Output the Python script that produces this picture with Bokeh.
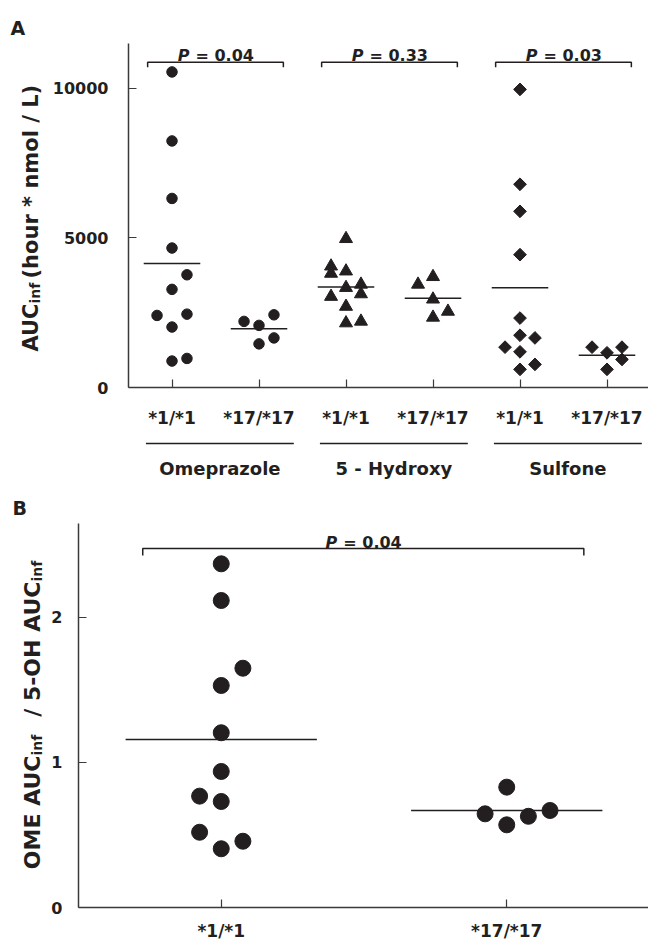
from math import pi
from bokeh.plotting import figure
from bokeh.models import Range1d, FixedTicker, Label
from bokeh.layouts import column, row
from bokeh.embed import file_html
from bokeh.resources import INLINE

# ---------------- data: panel A (AUCinf, hour*nmol/L) ----------------
genotypes = ["*1/*1", "*17/*17"]
groups_a = ["Omeprazole", "5 - Hydroxy", "Sulfone"]
p_values_a = ["0.04", "0.33", "0.03"]

ome_11 = [10540, 8235, 6315, 4659, 3765, 3278, 2407, 2450, 2020, 884, 971]
ome_11_slot = [0, 0, 0, 0, 1, 0, -1, 1, 0, 0, 1]
ome_1717 = [2208, 2075, 2428, 1656, 1457]
ome_1717_slot = [-1, 0, 1, 1, 0]

oh_11 = [4967, 4050, 3808, 3885, 3444, 3334, 3036, 3123, 2705, 2152, 2208]
oh_11_slot = [0, -1, -1, 0, 1, 0, -1, 1, 0, 0, 1]
oh_1717 = [3444, 3698, 2947, 2540, 2341]
oh_1717_slot = [-1, 0, 0, 1, 0]

sul_11 = [9957, 6788, 5884, 4437, 2318, 1745, 1656, 1347, 1192, 772, 606]
sul_11_slot = [0, 0, 0, 0, 0, 0, 1, -1, 0, 1, 0]
sul_1717 = [1347, 1159, 1347, 937, 606]
sul_1717_slot = [-1, 0, 1, 1, 0]

means_a = [4139, 1965, 3355, 2980, 3334, 1080]
yticks_a = [0, 5000, 10000]

# ---------------- data: panel B (OME AUCinf / 5-OH AUCinf) ----------------
ratio_11 = [2.37, 2.117, 1.650, 1.531, 1.205, 0.938, 0.768, 0.731, 0.519, 0.457, 0.405]
ratio_11_slot = [0, 0, 1, 0, 0, 0, -1, 0, -1, 1, 0]
ratio_1717 = [0.830, 0.646, 0.570, 0.629, 0.669]
ratio_1717_slot = [0, -1, 0, 1, 2]
means_b = [1.159, 0.669]
p_value_b = "0.04"
yticks_b = [0, 1, 2]

FONT = "DejaVu Sans"
INK = "#231f20"
AXC = "#3a3a3a"


def style(p):
    p.xgrid.visible = False
    p.ygrid.visible = False
    p.outline_line_color = None
    for ax in (p.xaxis[0], p.yaxis[0]):
        ax.axis_line_color = AXC
        ax.axis_line_width = 1.5
        ax.major_tick_line_color = AXC
        ax.major_tick_line_width = 1.2
        ax.major_tick_in = 8
        ax.major_tick_out = 0
        ax.minor_tick_line_color = None
        ax.major_label_text_font = FONT
        ax.major_label_text_font_style = "bold"
        ax.major_label_text_color = INK


def lab(p, x, y, text, size, align="left", baseline="alphabetic", angle=0.0,
        style_="bold", x_offset=0):
    p.add_layout(Label(x=x, y=y, text=text, angle=angle, x_offset=x_offset,
                       text_align=align, text_baseline=baseline,
                       text_font=FONT, text_font_style=style_,
                       text_font_size=f"{size}px", text_color=INK))


def blank(width, height, x_range=None, border_left=0):
    """A figure without axes whose frame is used to place text in pixels."""
    f = figure(width=width, height=height, output_backend="svg", toolbar_location=None,
               x_range=x_range if x_range is not None else Range1d(0, width),
               y_range=Range1d(0, height), x_axis_location=None, y_axis_location=None,
               min_border_left=border_left, min_border_right=0, min_border_top=0,
               min_border_bottom=0, frame_align=False)
    f.xgrid.visible = False
    f.ygrid.visible = False
    f.outline_line_color = None
    return f


LW = 48  # width of the column holding the rotated y titles

# ======================= Panel A =======================
HA = 430
pA = figure(width=648 - LW, height=HA, output_backend="svg", toolbar_location=None,
            x_range=Range1d(0.5, 6.477), y_range=Range1d(0, 11490),
            min_border_left=128 - LW, min_border_right=0, min_border_top=43,
            min_border_bottom=40, frame_align=False)
style(pA)
pA.xaxis[0].ticker = FixedTicker(ticks=[1, 2, 3, 4, 5, 6])
pA.xaxis[0].major_label_overrides = {i + 1: genotypes[i % 2] for i in range(6)}
pA.xaxis[0].major_label_text_font_size = "17px"
pA.xaxis[0].major_label_standoff = 20
pA.yaxis[0].ticker = FixedTicker(ticks=yticks_a)
pA.yaxis[0].major_label_overrides = {v: str(v) for v in yticks_a}
pA.yaxis[0].major_label_text_font_size = "16px"
pA.yaxis[0].major_label_standoff = 20

step_a = 0.172
series_a = [(ome_11, ome_11_slot), (ome_1717, ome_1717_slot),
            (oh_11, oh_11_slot), (oh_1717, oh_1717_slot),
            (sul_11, sul_11_slot), (sul_1717, sul_1717_slot)]
marks = [("circle", 10.5, 0.0), ("circle", 10.5, 0.0),
         ("triangle", 13, 0.0), ("triangle", 13, 0.0),
         ("square", 9, pi / 4), ("square", 9, pi / 4)]
for k, (vals, slots) in enumerate(series_a):
    c = k + 1
    m, s, ang = marks[k]
    pA.scatter([c + step_a * sl for sl in slots], vals, marker=m, size=s, angle=ang,
               fill_color=INK, line_color=INK)
    pA.segment(x0=[c - 0.325], x1=[c + 0.325], y0=[means_a[k]], y1=[means_a[k]],
               line_color=INK, line_width=1.5)

for g in range(3):
    c1, c2 = 2 * g + 1, 2 * g + 2
    xl, xr = c1 - 0.28, c2 + 0.28
    pA.line([xl, xl, xr, xr], [10695, 10861, 10861, 10695], line_color=INK, line_width=1.5)
    cx = (c1 + c2) / 2
    lab(pA, cx, 11093, "P", 16, align="right", style_="bold italic", x_offset=-26)
    lab(pA, cx, 11093, "= " + p_values_a[g], 16, align="left", x_offset=-20)

# group-name strip under panel A (shares the x scale of panel A)
HG = 480 - HA
gA = blank(648 - LW, HG, x_range=pA.x_range, border_left=128 - LW)
for g in range(3):
    c1, c2 = 2 * g + 1, 2 * g + 2
    ul, ur = c1 - 0.30, c2 + 0.40
    gA.segment(x0=[ul], x1=[ur], y0=[HG - 13], y1=[HG - 13], line_color=INK, line_width=1.5)
    lab(gA, (ul + ur) / 2, HG - 38, groups_a[g], 18, align="center")

# y title column of panel A (pixel coordinates, y measured from the top)
yA = blank(LW, 480)
lab(yA, 10, 480 - 27, "A", 19)
lab(yA, 30, 480 - 303, "AUC", 21, align="right", angle=pi / 2)
lab(yA, 34, 480 - 303, "inf", 14, align="left", angle=pi / 2)
lab(yA, 30, 480 - 278, "(hour * nmol / L)", 21, align="left", angle=pi / 2)

# ======================= Panel B =======================
HB = 463
pB = figure(width=648 - LW, height=HB, output_backend="svg", toolbar_location=None,
            x_range=Range1d(0.5, 2.4965), y_range=Range1d(0, 2.648),
            min_border_left=77 - LW, min_border_right=0, min_border_top=43,
            min_border_bottom=36, frame_align=False)
style(pB)
pB.xaxis[0].ticker = FixedTicker(ticks=[1, 2])
pB.xaxis[0].major_label_overrides = {1: genotypes[0], 2: genotypes[1]}
pB.xaxis[0].major_label_text_font_size = "17px"
pB.xaxis[0].major_label_standoff = 13
pB.yaxis[0].ticker = FixedTicker(ticks=yticks_b)
pB.yaxis[0].major_label_overrides = {v: str(v) for v in yticks_b}
pB.yaxis[0].major_label_text_font_size = "16px"
pB.yaxis[0].major_label_standoff = 16

step_b = 0.0758
for k, (vals, slots) in enumerate([(ratio_11, ratio_11_slot), (ratio_1717, ratio_1717_slot)]):
    c = k + 1
    pB.scatter([c + step_b * sl for sl in slots], vals, marker="circle", size=16,
               fill_color=INK, line_color=INK)
    pB.segment(x0=[c - 0.335], x1=[c + 0.335], y0=[means_b[k]], y1=[means_b[k]],
               line_color=INK, line_width=1.5)

bl, br = 0.725, 2.27
pB.line([bl, bl, br, br], [2.428, 2.476, 2.476, 2.428], line_color=INK, line_width=1.5)
cb = (bl + br) / 2
lab(pB, cb, 2.517, "P", 16, align="right", style_="bold italic", x_offset=-26)
lab(pB, cb, 2.517, "= " + p_value_b, 16, align="left", x_offset=-20)

yB = blank(LW, HB)
lab(yB, 12, HB - 27, "B", 19)
lab(yB, 32, HB - 275, "OME AUC", 22, align="right", angle=pi / 2)
lab(yB, 36, HB - 275, "inf", 14, align="left", angle=pi / 2)
lab(yB, 32, HB - 101, "/ 5-OH AUC", 22, align="right", angle=pi / 2)
lab(yB, 36, HB - 101, "inf", 14, align="left", angle=pi / 2)

layout = column(
    row(yA, column(pA, gA, spacing=0), spacing=0),
    row(yB, pB, spacing=0),
    spacing=0,
)
open("out.html", "w").write(file_html(layout, INLINE))
